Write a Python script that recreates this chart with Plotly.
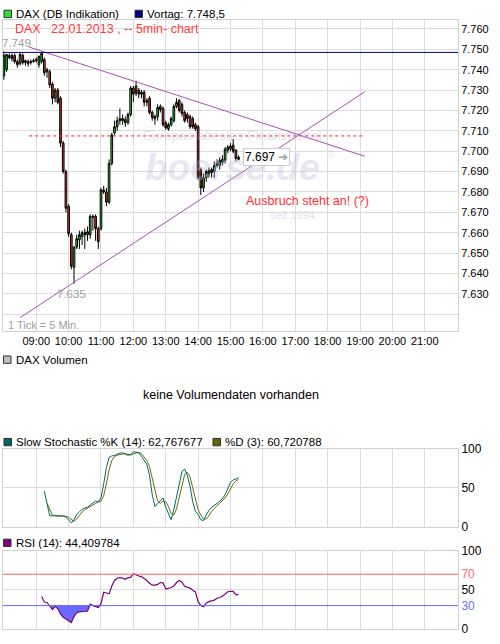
import pandas as pd
import plotly.graph_objects as go

# ---------------- data ----------------
session_start = "2013-01-22 08:00"
opens = [7737, 7740, 7746, 7747, 7747, 7744, 7743, 7747, 7743.5, 7744, 7743.5, 7744, 7744.5, 7742.5, 7744,
         7745, 7739, 7739, 7733, 7726, 7730, 7726, 7704, 7690, 7673, 7659, 7643, 7653, 7656.5, 7658,
         7660, 7659, 7659, 7667.5, 7668, 7662, 7662, 7681, 7680, 7675, 7694, 7709, 7712, 7715, 7716,
         7715.5, 7714, 7718, 7731, 7732, 7730, 7728, 7729, 7724, 7726, 7719, 7716, 7717, 7722, 7721,
         7714, 7711, 7713, 7715, 7722, 7725, 7723, 7719, 7718, 7717, 7716, 7713, 7712, 7691, 7682,
         7687, 7689, 7691, 7690, 7693, 7693, 7694.5, 7695.5, 7700.5, 7701, 7703, 7700.5, 7696]
highs = [7749, 7747.5, 7748, 7748, 7748, 7745, 7748.5, 7748, 7745, 7745, 7745, 7745.5, 7746, 7747, 7748.5,
         7746, 7741, 7740, 7734, 7731, 7731, 7727, 7705, 7691, 7674, 7660, 7653, 7659, 7661, 7661,
         7662, 7663, 7669, 7669, 7669, 7663, 7682, 7683, 7682, 7696, 7709, 7715, 7717, 7721, 7718,
         7717, 7719, 7732, 7732, 7734.5, 7731, 7730, 7730, 7726, 7727, 7720, 7718, 7723, 7723, 7722,
         7715, 7714, 7717, 7723, 7726, 7725.5, 7724, 7720, 7719, 7718, 7717, 7714, 7713, 7692, 7689,
         7691, 7692, 7692, 7695, 7696, 7697, 7698, 7702, 7703, 7704, 7706, 7701, 7698]
lows = [7735, 7739, 7745, 7744, 7743, 7741, 7742, 7742.5, 7742, 7741.5, 7742.5, 7743.5, 7743.5, 7741, 7743,
        7737, 7736, 7731, 7723, 7724, 7723, 7702, 7689, 7670, 7658, 7642, 7635, 7652, 7652, 7654,
        7652, 7656, 7657, 7661, 7656, 7652, 7661, 7679, 7673, 7674, 7693, 7708, 7710, 7713, 7713,
        7712, 7713, 7717, 7724, 7727, 7726, 7726, 7722, 7722, 7718, 7715, 7713, 7715, 7719, 7712,
        7710.5, 7710, 7712, 7714, 7721, 7719, 7717, 7714, 7714, 7711, 7711, 7710, 7686, 7678.5, 7680,
        7685, 7687, 7687, 7687, 7692, 7691, 7693, 7694, 7699, 7700, 7699, 7695, 7695.5]
closes = [7747, 7747.5, 7747, 7745.5, 7744, 7742.5, 7747.5, 7743.5, 7744.5, 7743, 7744, 7744.5, 7745, 7746.5, 7748,
          7738.5, 7740, 7732.5, 7726, 7730, 7724, 7704, 7690, 7672, 7659.5, 7643.5, 7653, 7657, 7659, 7660,
          7659, 7660.5, 7668, 7668, 7662, 7655.6, 7681, 7680, 7675, 7694, 7708, 7712, 7715, 7716, 7715,
          7714, 7718, 7731, 7728, 7728.5, 7728, 7729, 7724, 7725, 7719, 7716.5, 7717, 7721.5, 7720.5, 7713,
          7711.5, 7713, 7716, 7722, 7724, 7720, 7718.5, 7715, 7716, 7712, 7712, 7711, 7687, 7682, 7687,
          7690, 7690.5, 7689.5, 7693, 7694, 7695.5, 7696, 7701, 7702, 7702.5, 7700, 7696.5, 7697]

vortag = 7748.5
resistance_level = 7707.5
resistance_times = ["2013-01-22 08:47", "2013-01-22 19:05"]
upper_trend_times = ["2013-01-22 08:47", "2013-01-22 19:09"]
upper_trend_prices = [7751.1, 7697.5]
lower_trend_times = ["2013-01-22 08:30", "2013-01-22 19:09"]
lower_trend_prices = [7618.3, 7729.2]

stoch_k = [45.6, 28, 14, 14, 14.5, 14, 14, 14, 12.5, 9, 5, 9, 16, 19, 22.6, 24, 25, 28, 31, 33, 32, 37,
           55, 76, 89, 91, 91.5, 93, 94.6, 95, 93.5, 91.7, 93, 96, 96, 95, 90.5, 85, 80, 66, 41, 26, 30,
           34, 37, 25, 16, 9, 22, 40, 56, 71, 74, 66, 52, 32, 20, 16, 9, 8, 15, 21, 25, 27, 30, 33, 36,
           41, 50, 57, 60, 61, 62.8]
stoch_d = [30, 22, 15, 14, 14, 14, 14, 13.5, 12, 9, 7, 10, 15, 19, 22, 24, 26, 28, 31, 32, 33, 40, 55,
           73, 85, 90, 92, 93, 94, 94, 93, 92, 93.5, 95, 95.5, 94, 90, 85, 77, 62, 44, 33, 30, 33, 32,
           26, 17, 15, 23, 38, 55, 67, 70, 64, 50, 35, 22, 15, 10, 10, 14, 20, 24, 27, 30, 33, 37, 42,
           49, 55, 59, 60.7]
rsi = [41.5, 34.5, 34, 30, 25, 29, 26, 19, 15, 13, 10.5, 8.5, 16, 21, 22, 22, 22.8, 23, 32, 30, 29,
       27.5, 32.5, 47, 46, 45, 55, 62, 64.8, 65.6, 65, 63.5, 65.6, 66, 70.6, 69, 67.7, 67, 65, 62, 58.5,
       56, 56, 57, 59.4, 59, 51, 52, 53, 55, 59.4, 62, 60, 54.5, 53, 52.3, 49.5, 47.5, 35, 30, 28.5, 33,
       35, 36, 37, 39.4, 40, 42, 45, 47.7, 48.2, 48.2, 43.6, 44.4]
rsi_low, rsi_high = 30, 70

hour_ticks = ["2013-01-22 %02d:00" % h for h in [9, 10, 11, 12, 13, 14, 15, 16, 17, 18, 19, 20, 21]]
hour_labels = ["09:00", "10:00", "11:00", "12:00", "13:00", "14:00", "15:00", "16:00", "17:00",
               "18:00", "19:00", "20:00", "21:00"]
price_ticks = [7620, 7630, 7640, 7650, 7660, 7670, 7680, 7690, 7700, 7710, 7720, 7730, 7740, 7750, 7760]
price_labels = ["", "7.630", "7.640", "7.650", "7.660", "7.670", "7.680", "7.690", "7.700", "7.710",
                "7.720", "7.730", "7.740", "7.750", "7.760"]
x_range = ["2013-01-22 07:58:24", "2013-01-22 22:01:36"]
price_range = [7611.6, 7764.4]

# ---------------- layout helpers ----------------
W, H = 500, 644
ML, MR = 3, 42
PW = W - ML - MR
FONT = "Liberation Sans"
GRID = "#dcdcdc"
BORDER = "#d2d2d2"


def px_x(px):
    return (px - ML) / PW


def px_y(py):
    return 1 - py / H


times = list(pd.date_range(session_start, periods=len(opens), freq="5min"))
k_times = times[-len(stoch_k):]
d_times = times[-len(stoch_d):]
rsi_times = times[-len(rsi):]

fig = go.Figure()

# main candles
fig.add_trace(go.Candlestick(
    x=times, open=opens, high=highs, low=lows, close=closes,
    increasing=dict(fillcolor="#22dd22", line=dict(color="#000000", width=1)),
    decreasing=dict(fillcolor="#ee2a2a", line=dict(color="#000000", width=1)),
    whiskerwidth=0, xaxis="x", yaxis="y", hoverinfo="skip"))

fig.add_trace(go.Scatter(x=resistance_times, y=[resistance_level] * len(resistance_times), mode="lines",
                         line=dict(color="#ff2020", width=1, dash="dot"), xaxis="x", yaxis="y"))
fig.add_trace(go.Scatter(x=upper_trend_times, y=upper_trend_prices, mode="lines",
                         line=dict(color="#a850b8", width=1), xaxis="x", yaxis="y"))
fig.add_trace(go.Scatter(x=lower_trend_times, y=lower_trend_prices, mode="lines",
                         line=dict(color="#a850b8", width=1), xaxis="x", yaxis="y"))

# stochastic
fig.add_trace(go.Scatter(x=d_times, y=stoch_d, mode="lines", line=dict(color="#6e6e00", width=1),
                         xaxis="x3", yaxis="y3"))
fig.add_trace(go.Scatter(x=k_times, y=stoch_k, mode="lines", line=dict(color="#006a6a", width=1),
                         xaxis="x3", yaxis="y3"))

# RSI with fill below 30
fig.add_trace(go.Scatter(x=rsi_times, y=[rsi_low] * len(rsi), mode="lines", line=dict(width=0),
                         xaxis="x4", yaxis="y4"))
fig.add_trace(go.Scatter(x=rsi_times, y=[min(v, rsi_low) for v in rsi], mode="lines", line=dict(width=0),
                         fill="tonexty", fillcolor="#6a6aff", xaxis="x4", yaxis="y4"))
fig.add_trace(go.Scatter(x=rsi_times, y=rsi, mode="lines", line=dict(color="#800080", width=1.2),
                         xaxis="x4", yaxis="y4"))

dom_main = [px_y(331.5), px_y(13.3)]
dom_vol = [px_y(427), px_y(367)]
dom_sto = [px_y(531.3), px_y(451.7)]
dom_rsi = [px_y(636), px_y(555.7)]

xcommon = dict(range=x_range, type="date", showline=True, mirror=True, linecolor=BORDER, linewidth=1,
               zeroline=False, gridcolor=GRID, gridwidth=1, tickvals=hour_ticks, ticktext=hour_labels,
               ticks="", fixedrange=True)
ycommon = dict(side="right", showline=True, mirror=True, linecolor=BORDER, linewidth=1, zeroline=False,
               gridcolor=GRID, gridwidth=1, ticks="", tickfont=dict(size=11, color="#000"))

fig.update_layout(
    width=W, height=H,
    margin=dict(l=ML, r=MR, t=0, b=0),
    paper_bgcolor="white", plot_bgcolor="white",
    font=dict(family=FONT, size=11, color="#000"),
    showlegend=False,
    boxgap=0.12,
    xaxis=dict(xcommon, anchor="y", showgrid=True, rangeslider=dict(visible=False),
               tickfont=dict(size=11, color="#000")),
    xaxis2=dict(xcommon, anchor="y2", matches="x", showgrid=False, showticklabels=False),
    xaxis3=dict(xcommon, anchor="y3", matches="x", showgrid=True, showticklabels=False),
    xaxis4=dict(xcommon, anchor="y4", matches="x", showgrid=True, showticklabels=False),
    yaxis=dict(ycommon, domain=dom_main, anchor="x", range=price_range, tickvals=price_ticks,
               ticktext=price_labels, showgrid=True),
    yaxis2=dict(ycommon, domain=dom_vol, anchor="x2", range=[0, 1], showgrid=False, showticklabels=False),
    yaxis3=dict(ycommon, domain=dom_sto, anchor="x3", range=[0, 100], tickvals=[0, 50, 100],
                ticktext=["0", "50", "100"], showgrid=True, tickfont=dict(size=12, color="#000")),
    yaxis4=dict(ycommon, domain=dom_rsi, anchor="x4", range=[0, 100], tickvals=[0, 30, 50, 70, 100],
                ticktext=["0", "<span style='color:#6a6aff'>30</span>", "50",
                          "<span style='color:#ff6a6a'>70</span>", "100"],
                showgrid=True, tickfont=dict(size=12, color="#000")),
)

shapes = []
# Vortag line
shapes.append(dict(type="line", xref="x domain", yref="y", x0=0, x1=1, y0=vortag, y1=vortag,
                   line=dict(color="#000080", width=1)))
# RSI levels
shapes.append(dict(type="line", xref="x4 domain", yref="y4", x0=0, x1=1, y0=rsi_high, y1=rsi_high,
                   line=dict(color="#ff6a6a", width=1)))
shapes.append(dict(type="line", xref="x4 domain", yref="y4", x0=0, x1=1, y0=rsi_low, y1=rsi_low,
                   line=dict(color="#6a6aff", width=1)))


def legend_box(x0, y0, color):
    return dict(type="rect", xref="paper", yref="paper", x0=px_x(x0), x1=px_x(x0 + 7.5),
                y0=px_y(y0 + 7.5), y1=px_y(y0), fillcolor=color, line=dict(color="#303030", width=1))


shapes += [legend_box(4, 3.3, "#33dd33"), legend_box(135, 3.3, "#000080"),
           legend_box(3.5, 356.7, "#c0c0c0"), legend_box(4, 441, "#006666"),
           legend_box(213, 441, "#666600"), legend_box(3.5, 544, "#800080")]
fig.update_layout(shapes=shapes)

ann = []


def ptext(x, y, text, size=11.5, color="#000", xanchor="left", family=FONT):
    ann.append(dict(xref="paper", yref="paper", x=px_x(x), y=px_y(y), text=text, showarrow=False,
                    xanchor=xanchor, yanchor="middle", borderpad=0,
                    font=dict(size=size, color=color, family=family)))


# watermark
wm = "rgba(175,182,215,0.33)"
wm2 = "rgba(175,182,215,0.4)"
ptext(232, 131, "Europas ältestes Finanzportal", 13.5, wm2, "center")
ptext(232, 164, "<b><i>boerse.de</i></b>", 37, wm, "center")
ptext(331, 150, "®", 11, wm, "center")
ptext(292, 213, "seit 1994", 11, wm2, "center")

ptext(15, 7.3, "DAX (DB Indikation)", 11.5)
ptext(146, 7.3, "Vortag: 7.748,5", 11.5)
ptext(14, 22.3, "DAX&nbsp;&nbsp;&nbsp;22.01.2013 , -- 5min- chart", 12.5, "#ff3b3b")
ptext(7, 325, "1 Tick = 5 Min.", 11, "#a0a0a0")
ptext(245, 198, "Ausbruch steht an! (?)", 12.5, "#ff3030")
ptext(15, 360.5, "DAX Volumen", 11.5)
ptext(230.5, 397, "keine Volumendaten vorhanden", 12.5, "#000", "center")
ptext(15, 444.6, "Slow Stochastic %K (14): 62,767677", 11.5)
ptext(224, 444.6, "%D (3): 60,720788", 11.5)
ptext(15, 547.6, "RSI (14): 44,409784", 11.5)

# high / low labels from data
i_hi = highs.index(max(highs))
i_lo = lows.index(min(lows))
ann.append(dict(x=times[i_hi], y=highs[i_hi], xref="x", yref="y", showarrow=False, xanchor="left",
                yanchor="middle", xshift=-3, yshift=8, borderpad=0,
                text=f"{max(highs):,}".replace(",", "."), font=dict(size=11.5, color="#a0a0a0")))
ann.append(dict(x=times[i_lo], y=lows[i_lo], xref="x", yref="y", showarrow=False, xanchor="center",
                yanchor="top", xshift=-3, yshift=-3, borderpad=0,
                text=f"{min(lows):,}".replace(",", "."), font=dict(size=11.5, color="#a0a0a0")))
# last price box
ann.append(dict(x=times[-1], y=closes[-1], xref="x", yref="y", showarrow=False, xanchor="left",
                yanchor="middle", xshift=4,
                text=f"{closes[-1]:,}".replace(",", ".") + " <span style='color:#a0a0a0'>➔</span>",
                font=dict(size=12, color="#000"), bgcolor="white", bordercolor="#cccccc",
                borderwidth=1, borderpad=1))
fig.update_layout(annotations=ann)

fig.write_html("out.html", config={"displayModeBar": False},
               post_script="document.body.style.margin='0';document.body.style.padding='0';")
